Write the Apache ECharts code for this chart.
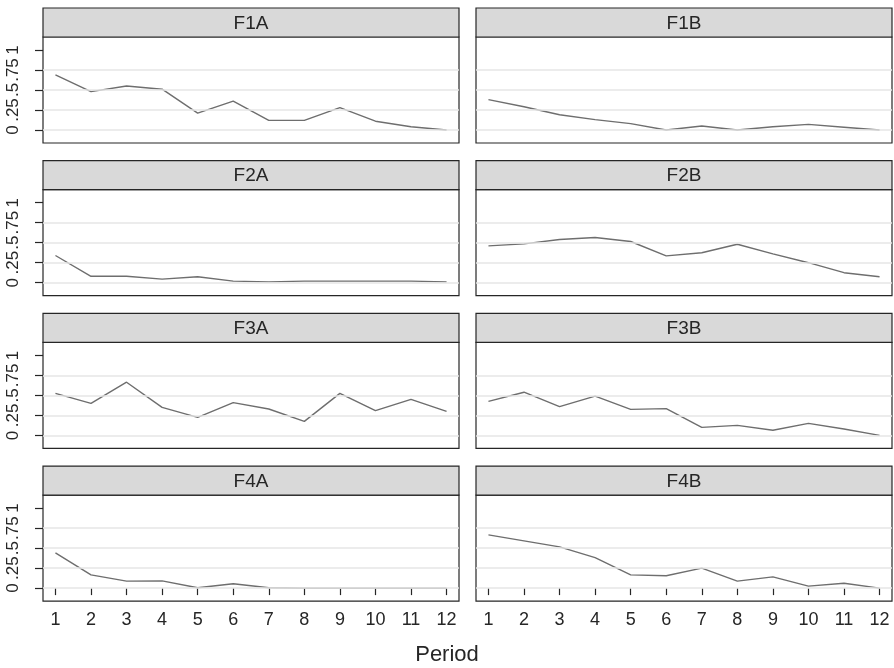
<!DOCTYPE html>
<html>
<head>
<meta charset="utf-8">
<style>
  html, body { margin: 0; padding: 0; background: #fff; }
  #chart { width: 894px; height: 668px; }
</style>
<script src="https://cdn.jsdelivr.net/npm/echarts@6/dist/echarts.min.js"></script>
</head>
<body>
<div id="chart"></div>
<script>
const periods = [1, 2, 3, 4, 5, 6, 7, 8, 9, 10, 11, 12];
const yTicks = [0, 0.25, 0.5, 0.75, 1];
const gridValues = [0, 0.25, 0.5, 0.75];
const panelNames = ['F1A', 'F1B', 'F2A', 'F2B', 'F3A', 'F3B', 'F4A', 'F4B'];

const f1a = [0.69, 0.48, 0.55, 0.51, 0.21, 0.36, 0.12, 0.12, 0.28, 0.11, 0.04, 0.0];
const f1b = [0.38, 0.29, 0.19, 0.13, 0.08, 0.0, 0.05, 0.0, 0.04, 0.07, 0.035, 0.0];
const f2a = [0.34, 0.08, 0.08, 0.045, 0.075, 0.02, 0.01, 0.02, 0.02, 0.02, 0.02, 0.01];
const f2b = [0.46, 0.485, 0.54, 0.565, 0.515, 0.335, 0.375, 0.48, 0.36, 0.25, 0.125, 0.075];
const f3a = [0.525, 0.4, 0.665, 0.35, 0.225, 0.41, 0.33, 0.175, 0.525, 0.31, 0.45, 0.3];
const f3b = [0.425, 0.54, 0.36, 0.49, 0.325, 0.335, 0.1, 0.125, 0.065, 0.15, 0.08, 0.0];
const f4a = [0.44, 0.165, 0.087, 0.09, 0.005, 0.055, 0.005, 0.0, 0.0, 0.0, 0.0, 0.0];
const f4b = [0.665, 0.59, 0.515, 0.38, 0.165, 0.155, 0.25, 0.087, 0.14, 0.025, 0.06, 0.0];

const panelValues = [f1a, f1b, f2a, f2b, f3a, f3b, f4a, f4b];

// layout
const colLeft = [43, 476];
const plotW = 416;
const headerH = 29;
const plotH = 106;
const rowStep = 152.7;
const font = '"Liberation Sans", Arial, Helvetica, sans-serif';
const ink = '#262626';

function yLabel(v) {
  if (v === 0 || v === 1) return String(v);
  return String(v).replace(/^0/, '');
}

const chart = echarts.init(document.getElementById('chart'), null, { renderer: 'canvas' });

const grids = [];
const xAxes = [];
const yAxes = [];
const series = [];
const graphics = [];

panelNames.forEach((name, i) => {
  const row = Math.floor(i / 2);
  const col = i % 2;
  const top = 8 + row * rowStep;
  const left = colLeft[col];
  const isBottom = row === 3;
  const isLeft = col === 0;

  grids.push({
    left, top: top + headerH, width: plotW, height: plotH,
    show: true, backgroundColor: '#fff', borderColor: ink, borderWidth: 1.2,
    outerBoundsMode: 'none',
  });

  xAxes.push({
    type: 'value', gridIndex: i, min: 0.65, max: 12.35,
    axisLine: { show: false },
    splitLine: { show: false },
    axisTick: {
      show: isBottom, customValues: periods, length: 7,
      lineStyle: { color: ink, width: 1.2 },
    },
    axisLabel: {
      show: isBottom, customValues: periods, margin: 10,
      color: ink, fontSize: 18, fontFamily: font,
    },
  });

  yAxes.push({
    type: 'value', gridIndex: i, min: -0.1625, max: 1.1625,
    axisLine: { show: false },
    splitLine: { show: false },
    axisTick: {
      show: isLeft, customValues: yTicks, length: 8,
      lineStyle: { color: ink, width: 1.2 },
    },
    axisLabel: {
      show: isLeft, customValues: yTicks, rotate: 90, margin: 21,
      color: ink, fontSize: 17, fontFamily: font, formatter: yLabel,
      hideOverlap: false,
    },
  });

  // light horizontal grid lines
  series.push({
    type: 'line', xAxisIndex: i, yAxisIndex: i, data: [], z: 1, silent: true,
    markLine: {
      silent: true, symbol: ['none', 'none'], label: { show: false },
      lineStyle: { color: '#e6e6e6', width: 1.6, type: 'solid' },
      emphasis: { disabled: true },
      data: gridValues.map((v) => ({ yAxis: v })),
    },
  });

  series.push({
    type: 'line', xAxisIndex: i, yAxisIndex: i, z: 3,
    data: periods.map((p, k) => [p, panelValues[i][k]]),
    showSymbol: false, symbol: 'none',
    lineStyle: { color: '#6e6e6e', width: 1.4 },
    animation: false,
  });

  graphics.push({
    type: 'rect',
    shape: { x: left, y: top, width: plotW, height: headerH },
    style: { fill: '#d9d9d9', stroke: ink, lineWidth: 1.2 },
  });
  graphics.push({
    type: 'text',
    x: left + plotW / 2, y: top + headerH / 2 + 1,
    style: {
      text: name, fill: ink, font: '19px ' + font,
      textAlign: 'center', textVerticalAlign: 'middle',
    },
  });
});

graphics.push({
  type: 'text',
  x: 447, y: 655,
  style: {
    text: 'Period', fill: ink, font: '22px ' + font,
    textAlign: 'center', textVerticalAlign: 'middle',
  },
});

chart.setOption({
  animation: false,
  backgroundColor: '#fff',
  grid: grids,
  xAxis: xAxes,
  yAxis: yAxes,
  series,
  graphic: graphics,
});
</script>
</body>
</html>
